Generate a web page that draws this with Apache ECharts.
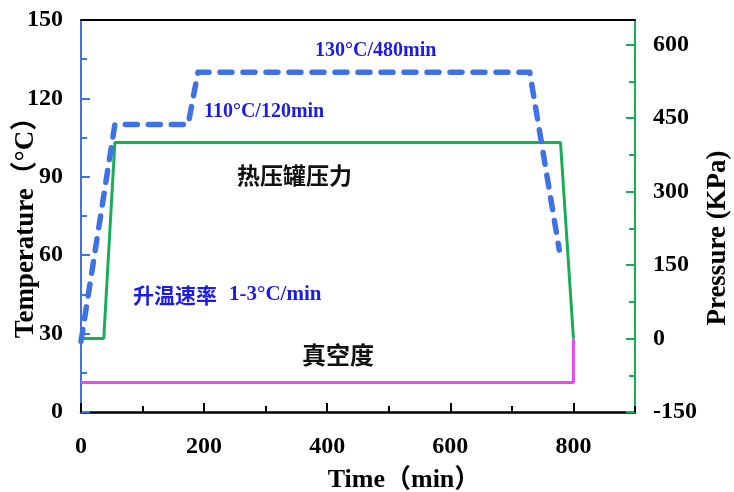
<!DOCTYPE html>
<html>
<head>
<meta charset="utf-8">
<script src="https://cdn.jsdelivr.net/npm/echarts@6/dist/echarts.min.js"></script>
<style>html,body{margin:0;padding:0;background:#fff;}#c{width:734px;height:492px;}</style>
</head>
<body>
<div id="c"></div>
<script>
// ---- data ----
const tempTime = [0, 55, 174, 190, 729, 777];
const tempValue = [27, 110, 110, 130, 130, 62];
const pressTime = [0, 37, 55, 779, 800];
const pressValue = [0, 0, 400, 400, 0];
const vacTime = [0, 800, 800];
const vacValue = [-90, -90, 0];
const xTicks = [0, 200, 400, 600, 800];
const tempTicks = [0, 30, 60, 90, 120, 150];
const pressTicks = [-150, 0, 150, 300, 450, 600];

const BLUE = '#3f72e4';
const GREEN = '#1aad58';
const MAGENTA = '#e64cf0';
const TXTBLUE = '#1c1ce8';
const SERIF = "'Liberation Serif','Times New Roman','Noto Sans CJK SC',serif";
const CJK = "'Noto Sans CJK SC',sans-serif";

const pair = (xs, ys) => xs.map((x, i) => [x, ys[i]]);

const chart = echarts.init(document.getElementById('c'), null, {renderer: 'canvas'});
const tickLabel = {fontFamily: SERIF, fontWeight: 'bold', fontSize: 24, color: '#000'};

chart.setOption({
  animation: false,
  grid: {left: 81, right: 99, top: 20, bottom: 80, containLabel: false},
  xAxis: [
    {type: 'value', position: 'bottom', min: xTicks[0], max: 900, interval: xTicks[1] - xTicks[0],
     axisLine: {onZero: false, lineStyle: {color: '#000', width: 2.5}},
     axisTick: {inside: true, length: 9, lineStyle: {color: '#000', width: 2}},
     axisLabel: Object.assign({margin: 23, showMaxLabel: false}, tickLabel),
     splitLine: {show: false}},
    {type: 'value', position: 'bottom', min: 0, max: 900, interval: 100,
     axisLine: {show: false, onZero: false},
     axisTick: {inside: true, length: 6, lineStyle: {color: '#000', width: 2}},
     axisLabel: {show: false}, splitLine: {show: false}},
    {type: 'value', position: 'top', min: 0, max: 900, z: 10,
     axisLine: {onZero: false, lineStyle: {color: '#000', width: 2}},
     axisTick: {show: false}, axisLabel: {show: false}, splitLine: {show: false}}
  ],
  yAxis: [
    {type: 'value', position: 'left', min: tempTicks[0], max: tempTicks[tempTicks.length - 1], interval: tempTicks[1] - tempTicks[0],
     axisLine: {show: true, onZero: false, lineStyle: {color: BLUE, width: 2}},
     axisTick: {show: true, inside: true, length: 9, lineStyle: {color: BLUE, width: 2}},
     minorTick: {show: true, splitNumber: 2, length: 6, lineStyle: {color: BLUE, width: 2}},
     axisLabel: Object.assign({margin: 18}, tickLabel),
     splitLine: {show: false}},
    {type: 'value', position: 'right', min: pressTicks[0], max: 650, interval: pressTicks[1] - pressTicks[0],
     axisLine: {show: true, onZero: false, lineStyle: {color: GREEN, width: 2}},
     axisTick: {show: true, inside: true, length: 9, lineStyle: {color: GREEN, width: 2}},
     axisLabel: Object.assign({margin: 18, showMaxLabel: false}, tickLabel),
     splitLine: {show: false}},
    {type: 'value', position: 'right', min: -150, max: 650, interval: 75,
     axisLine: {show: false, onZero: false},
     axisTick: {show: true, inside: true, length: 6, lineStyle: {color: GREEN, width: 2}},
     axisLabel: {show: false}, splitLine: {show: false}}
  ],
  series: [
    {type: 'line', xAxisIndex: 0, yAxisIndex: 1, data: pair(vacTime, vacValue), symbol: 'none', z: 2,
     lineStyle: {color: MAGENTA, width: 3}},
    {type: 'line', xAxisIndex: 0, yAxisIndex: 1, data: pair(pressTime, pressValue), symbol: 'none', z: 3,
     lineStyle: {color: GREEN, width: 3}},
    {type: 'line', xAxisIndex: 0, yAxisIndex: 0, data: pair(tempTime, tempValue), symbol: 'none', z: 4,
     lineStyle: {color: BLUE, width: 5.5, type: [12, 11], cap: 'round', join: 'round'}}
  ],
  graphic: [
    {type: 'text', x: 315, y: 51, style: {text: '130°C/480min', font: 'bold 20px ' + SERIF, fill: TXTBLUE, verticalAlign: 'middle', textVerticalAlign: 'middle'}},
    {type: 'text', x: 204, y: 112, style: {text: '110°C/120min', font: 'bold 20px ' + SERIF, fill: TXTBLUE, verticalAlign: 'middle', textVerticalAlign: 'middle'}},
    {type: 'text', x: 237, y: 175, style: {text: '热压罐压力', font: 'bold 23px ' + CJK, fill: '#111', verticalAlign: 'middle', textVerticalAlign: 'middle'}},
    {type: 'text', x: 133, y: 295, style: {text: '升温速率', font: 'bold 21px ' + CJK, fill: TXTBLUE, verticalAlign: 'middle', textVerticalAlign: 'middle'}},
    {type: 'text', x: 229, y: 295, style: {text: '1-3°C/min', font: 'bold 21px ' + SERIF, fill: TXTBLUE, verticalAlign: 'middle', textVerticalAlign: 'middle'}},
    {type: 'text', x: 302, y: 355, style: {text: '真空度', font: 'bold 24px ' + CJK, fill: '#111', verticalAlign: 'middle', textVerticalAlign: 'middle'}},
    {type: 'text', x: 26, y: 221, rotation: Math.PI / 2, style: {text: 'Temperature（°C）', font: 'bold 27px ' + SERIF, fill: '#000', align: 'center', textAlign: 'center', verticalAlign: 'middle', textVerticalAlign: 'middle'}},
    {type: 'text', x: 718, y: 238, rotation: Math.PI / 2, style: {text: 'Pressure (KPa)', font: 'bold 27px ' + SERIF, fill: '#000', align: 'center', textAlign: 'center', verticalAlign: 'middle', textVerticalAlign: 'middle'}},
    {type: 'text', x: 404, y: 480, style: {text: 'Time（min）', font: 'bold 26px ' + SERIF, fill: '#000', align: 'center', textAlign: 'center', verticalAlign: 'middle', textVerticalAlign: 'middle'}}
  ]
});
</script>
</body>
</html>
